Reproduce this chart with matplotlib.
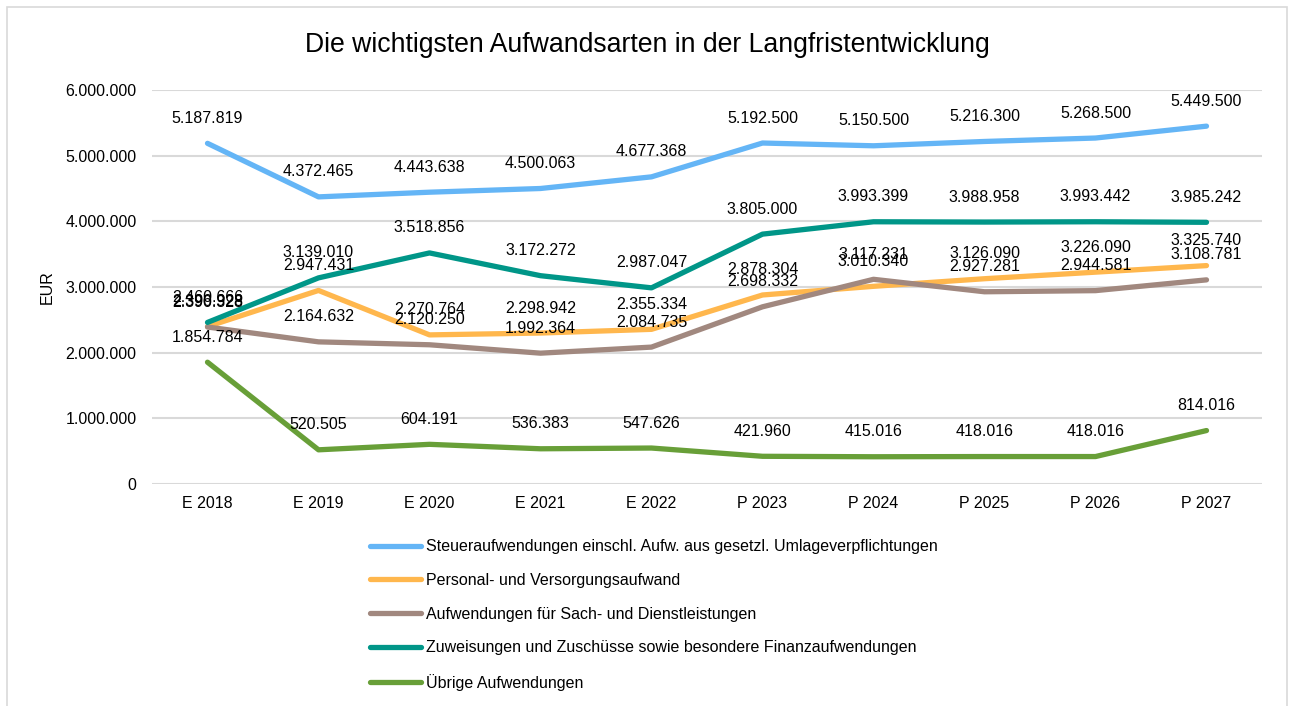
import matplotlib.pyplot as plt
from matplotlib.patches import Rectangle

plt.rcParams['font.family'] = ['Liberation Sans', 'DejaVu Sans']

# categories and values (EUR)
jahre = ['E 2018', 'E 2019', 'E 2020', 'E 2021', 'E 2022',
         'P 2023', 'P 2024', 'P 2025', 'P 2026', 'P 2027']

steuer = [5187819, 4372465, 4443638, 4500063, 4677368,
          5192500, 5150500, 5216300, 5268500, 5449500]
personal = [2396928, 2947431, 2270764, 2298942, 2355334,
            2878304, 3010340, 3126090, 3226090, 3325740]
sach = [2390328, 2164632, 2120250, 1992364, 2084735,
        2698332, 3117231, 2927281, 2944581, 3108781]
zuweisungen = [2460666, 3139010, 3518856, 3172272, 2987047,
               3805000, 3993399, 3988958, 3993442, 3985242]
uebrige = [1854784, 520505, 604191, 536383, 547626,
           421960, 415016, 418016, 418016, 814016]

namen = ['Steueraufwendungen einschl. Aufw. aus gesetzl. Umlageverpflichtungen',
         'Personal- und Versorgungsaufwand',
         'Aufwendungen für Sach- und Dienstleistungen',
         'Zuweisungen und Zuschüsse sowie besondere Finanzaufwendungen',
         'Übrige Aufwendungen']
farben = ['#64B5F6', '#FFB74D', '#A1887F', '#009688', '#689F38']


def de_fmt(v):
    return f'{v:,.0f}'.replace(',', '.')


fig = plt.figure(figsize=(12.94, 7.06), dpi=100)
ax = fig.add_axes([152/1294, 1 - 484/706, 1110/1294, 394/706])

x = list(range(len(jahre)))
for werte, name, farbe in zip([steuer, personal, sach, zuweisungen, uebrige], namen, farben):
    ax.plot(x, werte, color=farbe, lw=3.8, label=name, solid_capstyle='round', zorder=3)
    for xi, v in zip(x, werte):
        ax.annotate(de_fmt(v), (xi, v), xytext=(0, 18), textcoords='offset points',
                    ha='center', va='center', fontsize=11.5, color='#000000', zorder=4)

ax.set_xlim(-0.5, len(jahre) - 0.5)
ax.set_ylim(0, 6000000)
ax.set_yticks(range(0, 6000001, 1000000))
ax.set_yticklabels([de_fmt(v) for v in range(0, 6000001, 1000000)])
ax.set_xticks(x)
ax.set_xticklabels(jahre)
ax.tick_params(length=0, labelsize=11.5, colors='#000000')
ax.tick_params(axis='y', pad=11)
ax.tick_params(axis='x', pad=8.5)
ax.grid(axis='y', color='#D9D9D9', lw=1.5, zorder=0)
for s in ax.spines.values():
    s.set_visible(False)
ax.set_ylabel('EUR', fontsize=11.5, labelpad=8)

fig.suptitle('Die wichtigsten Aufwandsarten in der Langfristentwicklung',
             fontsize=19.2, y=1 - 45/706, va='center')

fig.legend(loc='upper left', bbox_to_anchor=(356/1294, 1 - 525/706), frameon=False,
           fontsize=11.5, handlelength=3.2, handletextpad=0.3, labelspacing=1.17)

fig.patches.append(Rectangle((7/1294, -0.02), 1280/1294, 1.02 - 7/706,
                             transform=fig.transFigure, fill=False,
                             edgecolor='#D9D9D9', lw=1.2))

fig.savefig('out.png', dpi=100)
